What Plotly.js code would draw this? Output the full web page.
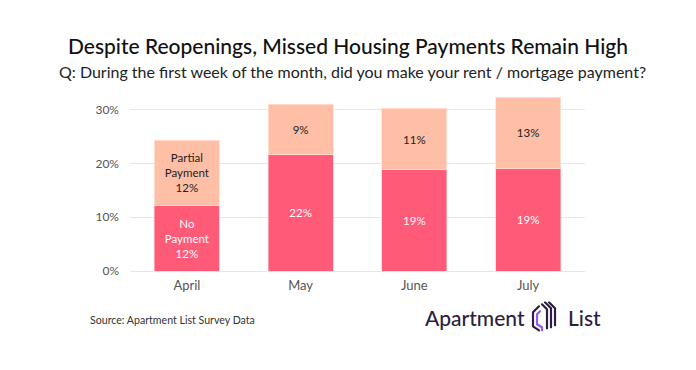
<!DOCTYPE html>
<html>
<head>
<meta charset="utf-8">
<script src="https://cdn.plot.ly/plotly-3.0.1.min.js"></script>
<style>html,body{margin:0;padding:0;background:#fff;}#chart{width:696px;height:370px;}</style>
</head>
<body>
<div id="chart"></div>
<script>
const months = ["April", "May", "June", "July"];
const noPayment = [12.2, 21.6, 18.8, 19.1];
const partialPayment = [12.1, 9.4, 11.4, 13.2];
const noPaymentLabels = ["No<br>Payment<br>12%", "22%", "19%", "19%"];
const partialLabels = ["Partial<br>Payment<br>12%", "9%", "11%", "13%"];
const yTickVals = [0, 10, 20, 30];
const yTickText = ["0%", "10%", "20%", "30%"];

const FONT = "Lato, 'Open Sans', sans-serif";

const iconSvg = '<svg xmlns="http://www.w3.org/2000/svg" width="28" height="32" viewBox="0 0 28 32">' +
  '<g fill="none" stroke-linecap="round" stroke-linejoin="round" stroke-width="2.2">' +
  '<path d="M9 5 L3 11 L3 25 L9 29" stroke="#2d1e3f"/>' +
  '<path d="M10 10 L7 13 L7 23 L12 26 L12 29" stroke="#8b5cf6"/>' +
  '<path d="M12 3 L17 8 L17 27" stroke="#2d1e3f"/>' +
  '<path d="M15 1 L21 7 L21 26" stroke="#2d1e3f"/>' +
  '<path d="M19 1 L25 7 L25 24" stroke="#2d1e3f"/>' +
  '</g></svg>';

const traces = [
  {
    type: "bar", x: months, y: noPayment, name: "No Payment",
    text: noPaymentLabels, textposition: "inside", insidetextanchor: "middle",
    textangle: 0, constraintext: "none", hoverinfo: "none",
    textfont: {family: FONT, size: 11.5, color: "#ffffff"},
    marker: {color: "#ff5a78", line: {color: "rgba(255,200,200,0.6)", width: 1}}
  },
  {
    type: "bar", x: months, y: partialPayment, name: "Partial Payment",
    text: partialLabels, textposition: "inside", insidetextanchor: "middle",
    textangle: 0, constraintext: "none", hoverinfo: "none",
    textfont: {family: FONT, size: 11.5, color: "#222222"},
    marker: {color: "#ffbfa6", line: {color: "rgba(255,225,210,0.8)", width: 1}}
  }
];

const layout = {
  width: 696, height: 370,
  margin: {l: 130, r: 111, t: 96, b: 99},
  paper_bgcolor: "#ffffff", plot_bgcolor: "#ffffff",
  barmode: "stack", bargap: 0.43,
  showlegend: false,
  font: {family: FONT, color: "#555"},
  title: {
    text: "Despite Reopenings, Missed Housing Payments Remain High",
    x: 348 / 696, xref: "container", xanchor: "center", y: 1 - 47 / 370, yref: "container", yanchor: "middle",
    font: {family: FONT, size: 21, color: "#111111", weight: 500}
  },
  xaxis: {
    type: "category", showgrid: false, zeroline: false, showline: false,
    ticks: "", tickfont: {family: FONT, size: 13, color: "#555"}, ticklabelstandoff: 5
  },
  yaxis: {
    range: [0, 32.5], tickvals: yTickVals, ticktext: yTickText,
    showgrid: true, gridcolor: "#e6e6e6", gridwidth: 1,
    zeroline: true, zerolinecolor: "#e6e6e6", zerolinewidth: 1,
    showline: false, ticks: "", ticklabelstandoff: 10,
    tickfont: {family: FONT, size: 12, color: "#555"}
  },
  annotations: [
    {
      text: "Q: During the first week of the month, did you make your rent / mortgage payment?",
      xref: "paper", yref: "paper", x: (352 - 130) / 455, y: 1.0 + (96 - 72) / 175, xanchor: "center", yanchor: "middle",
      showarrow: false, font: {family: FONT, size: 16, color: "#222"}
    },
    {
      text: "Source: Apartment List Survey Data",
      xref: "paper", yref: "paper", x: (88 - 130) / 455, y: -(320 - 270.7) / 175, xanchor: "left", yanchor: "middle",
      showarrow: false, font: {family: FONT, size: 10.6, color: "#333"}
    },
    {
      text: "Apartment",
      xref: "paper", yref: "paper", x: (527 - 130) / 455, y: -(317 - 270.7) / 175, xanchor: "right", yanchor: "middle",
      showarrow: false, font: {family: FONT, size: 21, color: "#2d1e3f", weight: 500}
    },
    {
      text: "List",
      xref: "paper", yref: "paper", x: (566 - 130) / 455, y: -(317 - 270.7) / 175, xanchor: "left", yanchor: "middle",
      showarrow: false, font: {family: FONT, size: 21, color: "#2d1e3f", weight: 500}
    }
  ],
  images: [
    {
      source: "data:image/svg+xml;base64," + btoa(iconSvg),
      xref: "paper", yref: "paper",
      x: (530 - 130) / 455, y: -(301 - 270.7) / 175,
      sizex: 28 / 455, sizey: 32 / 175, xanchor: "left", yanchor: "top", sizing: "stretch", layer: "above"
    }
  ]
};

Plotly.newPlot("chart", traces, layout, {displayModeBar: false, staticPlot: true});
</script>
</body>
</html>
